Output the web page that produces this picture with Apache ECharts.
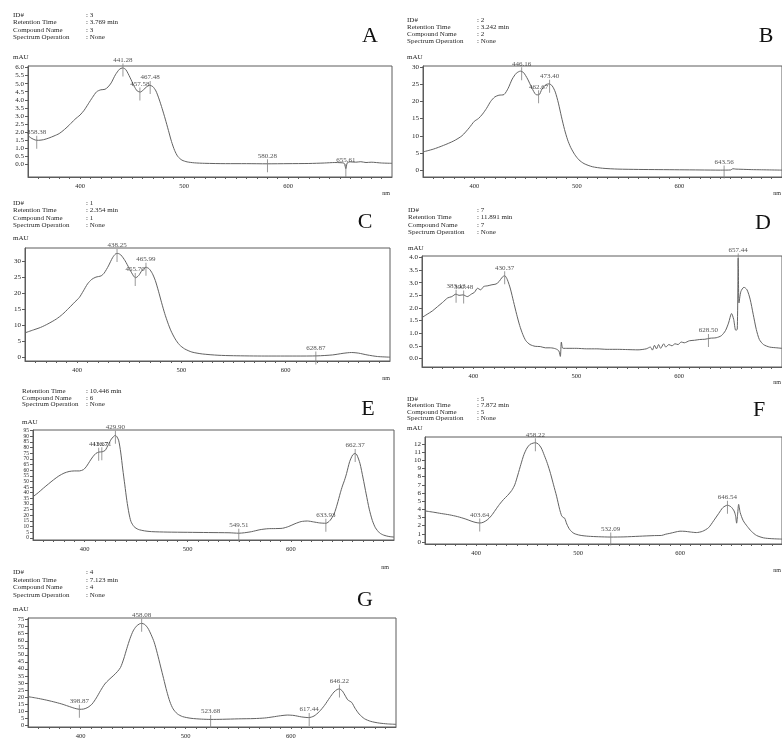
<!DOCTYPE html>
<html>
<head>
<meta charset="utf-8">
<script src="https://cdn.jsdelivr.net/npm/echarts@6/dist/echarts.min.js"></script>
<style>
html,body{margin:0;padding:0;background:#fff}
#chart{width:782px;height:744px}
</style>
</head>
<body>
<div id="chart"></div>
<script>
// ---- Absorption spectra: [wavelength nm, absorbance mAU] ----
const specA = [[350,1.78],[353,1.62],[357,1.50],[360,1.48],[365,1.52],[370,1.62],[375,1.75],[380,1.90],[385,2.15],[390,2.45],[395,2.78],[400,3.05],[404,3.35],[408,3.75],[412,4.15],[416,4.50],[420,4.62],[424,4.65],[427,4.80],[430,5.05],[434,5.55],[438,5.90],[441,5.98],[444,5.88],[448,5.40],[452,4.85],[455,4.55],[458,4.48],[461,4.62],[464,4.80],[467,4.90],[470,4.82],[473,4.55],[476,4.05],[479,3.45],[482,2.80],[485,2.10],[488,1.40],[491,0.85],[494,0.48],[498,0.25],[503,0.14],[510,0.08],[520,0.05],[540,0.03],[560,0.03],[580,0.02],[600,0.03],[620,0.04],[635,0.07],[645,0.10],[650,0.09],[654,0.05],[655.6,-0.28],[657,0.08],[660,0.14],[665,0.12],[670,0.15],[675,0.10],[680,0.12],[690,0.07],[700,0.05]];
const specB = [[350,5.3],[360,6.1],[370,7.2],[380,8.5],[388,10.0],[395,12.3],[400,14.2],[404,15.0],[408,16.3],[412,18.0],[416,20.0],[420,21.3],[424,21.8],[429,22.0],[433,23.8],[437,26.5],[441,28.2],[445,28.8],[448,28.4],[452,26.5],[456,24.0],[460,22.0],[463,21.9],[466,23.6],[470,24.9],[473,25.1],[476,24.5],[479,22.7],[482,19.5],[485,15.5],[488,11.8],[491,8.8],[494,6.6],[498,4.5],[502,3.0],[507,1.9],[515,1.0],[525,0.55],[540,0.3],[560,0.2],[580,0.15],[600,0.1],[620,0.05],[640,0.0],[650,0.05],[652,0.4],[655,0.3],[660,0.25],[670,0.15],[680,0.1],[690,0.05],[700,0.0]];
const specC = [[350,7.5],[358,8.4],[365,9.2],[372,10.3],[380,11.8],[386,13.3],[392,15.2],[398,17.2],[402,18.5],[406,20.6],[410,22.8],[414,24.2],[418,24.9],[423,25.3],[426,26.2],[430,28.4],[434,31.0],[437,32.2],[439,32.3],[442,31.8],[446,30.0],[450,27.6],[454,25.3],[456,24.7],[459,25.4],[462,26.9],[466,28.0],[469,27.5],[472,26.1],[475,23.8],[478,20.5],[481,16.9],[484,13.5],[487,10.6],[490,8.1],[494,5.6],[498,3.8],[503,2.5],[510,1.5],[520,0.9],[535,0.5],[550,0.35],[580,0.25],[610,0.25],[630,0.3],[645,0.6],[655,1.1],[663,1.35],[670,1.15],[678,0.6],[688,0.1],[700,-0.1]];
const specD = [[350,1.62],[355,1.75],[360,1.88],[365,2.05],[370,2.22],[375,2.40],[379,2.45],[383,2.55],[386,2.50],[390,2.52],[394,2.45],[398,2.55],[401,2.62],[404,2.78],[407,2.72],[410,2.85],[414,2.88],[418,2.92],[422,2.95],[425,3.05],[428,3.22],[430.4,3.28],[433,3.12],[436,2.75],[439,2.25],[442,1.75],[445,1.30],[448,0.95],[451,0.70],[455,0.55],[460,0.48],[465,0.47],[470,0.42],[475,0.42],[480,0.38],[483,0.30],[484.5,0.08],[485.5,0.65],[487,0.40],[492,0.40],[500,0.40],[510,0.38],[520,0.38],[530,0.36],[540,0.36],[550,0.35],[560,0.34],[568,0.38],[572,0.45],[574,0.33],[576,0.52],[578,0.38],[580,0.55],[582,0.40],[585,0.58],[587,0.45],[590,0.55],[593,0.50],[596,0.58],[599,0.55],[602,0.65],[605,0.62],[610,0.70],[615,0.72],[620,0.75],[625,0.76],[630,0.80],[636,0.82],[641,0.90],[645,1.10],[648,1.40],[651,1.78],[653,1.55],[655,1.12],[656.5,1.15],[657.44,3.98],[658.2,2.2],[660,2.65],[663,2.82],[666,2.72],[669,2.35],[672,1.75],[675,1.15],[678,0.75],[682,0.55],[688,0.45],[695,0.42],[700,0.40]];
const specE = [[350,36.5],[355,40],[360,44],[365,47.8],[370,51.5],[375,54.8],[380,57.3],[385,58.8],[390,59.3],[395,59.3],[399,60.5],[402,63.5],[405,67.8],[408,71.8],[411,74.8],[414,76.0],[417,76.2],[420,77.5],[423,82.5],[426,87.5],[429.9,90.8],[431,90.0],[433,86.5],[435,76],[437,61],[439,47],[441,33],[443,22],[445,14.5],[448,10],[452,7.6],[458,6.3],[465,5.6],[480,5.2],[500,5.0],[520,4.8],[540,4.6],[549.5,4.2],[555,4.6],[562,5.6],[570,7.3],[578,8.2],[585,8.3],[592,8.6],[598,10.2],[604,12.6],[610,14.5],[616,15.0],[622,14.2],[628,13.3],[634,13.0],[638,15.5],[642,21.5],[645,30],[648,40],[650,46],[652,51],[654,57],[657,67.5],[660,73.5],[662.4,74.8],[664,73.5],[667,66],[670,53],[673,39],[676,25.5],[679,15.5],[682,9],[686,4.5],[690,2.5],[695,1.3],[700,0.8]];
const specF = [[350,3.8],[358,3.65],[366,3.48],[374,3.32],[382,3.1],[390,2.8],[396,2.52],[400,2.38],[403.6,2.32],[407,2.4],[411,2.7],[415,3.2],[419,3.9],[423,4.6],[427,5.2],[431,5.7],[435,6.3],[438,7.0],[441,8.2],[444,9.5],[447,10.7],[450,11.5],[453,11.95],[456,12.1],[458.2,12.15],[461,12.0],[464,11.5],[467,10.6],[470,9.6],[473,8.4],[476,7.0],[479,5.6],[482,4.0],[484,3.2],[485.5,3.0],[487,2.9],[489,2.2],[492,1.5],[496,1.05],[502,0.82],[510,0.7],[520,0.64],[532,0.6],[545,0.62],[560,0.7],[575,0.78],[582,0.8],[586,0.95],[590,1.05],[595,1.2],[600,1.32],[605,1.3],[610,1.22],[616,1.15],[622,1.3],[628,1.75],[633,2.6],[638,3.5],[642,4.2],[646.5,4.5],[650,4.3],[653,3.8],[654.5,3.2],[655.5,2.3],[656.5,3.4],[657.5,4.6],[659,3.6],[662,2.6],[666,1.9],[670,1.3],[675,0.8],[682,0.5],[690,0.4],[700,0.35]];
const specG = [[350,20.2],[358,19.2],[366,18.0],[374,16.6],[382,15.0],[388,13.5],[394,12.0],[399,11.2],[403,11.4],[407,12.6],[411,15.0],[415,19.3],[419,24.5],[423,29.2],[427,32.3],[431,35.0],[435,38.0],[438,41],[441,47],[444,54.5],[447,61.5],[450,67],[453,70.3],[456,72],[458,72.4],[461,71.6],[464,69],[467,64.5],[470,59],[473,51],[476,42],[479,33],[482,24],[485,16.5],[488,11.5],[492,8],[497,6],[505,4.8],[515,4.2],[524,4.0],[535,4.1],[550,4.4],[565,4.6],[575,5.0],[583,5.8],[590,6.6],[597,7.1],[603,6.8],[610,5.8],[617,5.3],[622,6.4],[627,9.5],[632,14],[637,19.5],[641,23.5],[644,25.3],[646.2,25.7],[649,24.2],[652,20.5],[654,18.0],[656,17.0],[658,16.0],[661,12.0],[665,7.8],[670,4.5],[676,2.6],[684,1.4],[692,0.8],[700,0.5]];

// ---- Peak / valley wavelengths picked by the software (nm) ----
const peaksA = [358.38, 441.28, 457.58, 467.48, 580.28, 655.61];
const peaksB = [446.16, 462.67, 473.40, 643.56];
const peaksC = [438.25, 455.70, 465.99, 628.87];
const peaksD = [383.13, 390.48, 430.37, 628.50, 657.44];
const peaksE = [413.67, 416.71, 429.90, 549.51, 633.93, 662.37];
const peaksF = [403.64, 458.22, 532.09, 646.54];
const peaksG = [398.87, 458.08, 523.68, 617.44, 646.22];

// ---- Axis ticks ----
const xLabelTicks = [400, 500, 600];
const xMinorTicks = [360,370,380,390,400,410,420,430,440,450,460,470,480,490,500,510,520,530,540,550,560,570,580,590,600,610,620,630,640,650,660,670,680,690];
const yTicksA = [0,0.5,1,1.5,2,2.5,3,3.5,4,4.5,5,5.5,6];
const yTicksB = [0,5,10,15,20,25,30];
const yTicksC = [0,5,10,15,20,25,30];
const yTicksD = [0,0.5,1,1.5,2,2.5,3,3.5,4];
const yTicksE = [0,5,10,15,20,25,30,35,40,45,50,55,60,65,70,75,80,85,90,95];
const yTicksF = [0,1,2,3,4,5,6,7,8,9,10,11,12];
const yTicksG = [0,5,10,15,20,25,30,35,40,45,50,55,60,65,70,75];

// ---- Header blocks ----
const fieldNames = ['ID#', 'Retention Time', 'Compound Name', 'Spectrum Operation'];
const infoA = [': 3', ': 3.769 min', ': 3', ': None'];
const infoB = [': 2', ': 3.242 min', ': 2', ': None'];
const infoC = [': 1', ': 2.354 min', ': 1', ': None'];
const infoD = [': 7', ': 11.891 min', ': 7', ': None'];
const infoE = [': 6', ': 10.446 min', ': 6', ': None'];
const infoF = [': 5', ': 7.872 min', ': 5', ': None'];
const infoG = [': 4', ': 7.123 min', ': 4', ': None'];

// ---- Panel layout (pixels) ----
const panels = [
  { tag:'A', spec:specA, peaks:peaksA, yt:yTicksA, dec:1, box:[28,66,364,111],  yr:[-0.8,6.1],  info:infoA, hx:13,  hy:[15,22.3,29.7,37], vx:86,  letter:[370,36], unit:[13,57],  nm:[386,193], fs:7 },
  { tag:'B', spec:specB, peaks:peaksB, yt:yTicksB, dec:0, box:[423,66,366,111], yr:[-2,30.3],   info:infoB, hx:407, hy:[20,27,34,41],     vx:477, letter:[766,36], unit:[407,57], nm:[777,193], fs:7 },
  { tag:'C', spec:specC, peaks:peaksC, yt:yTicksC, dec:0, box:[25,248,365,113], yr:[-1.3,34],   info:infoC, hx:13,  hy:[203,210.5,218,225.5], vx:86, letter:[365,222], unit:[13,238], nm:[386,378], fs:7 },
  { tag:'D', spec:specD, peaks:peaksD, yt:yTicksD, dec:1, box:[422,256,361,111],yr:[-0.34,4.06],info:infoD, hx:408, hy:[210,217.5,225,232], vx:477, letter:[763,223], unit:[408,248], nm:[777,382], fs:7 },
  { tag:'E', spec:specE, peaks:peaksE, yt:yTicksE, dec:0, box:[33,430,361,110], yr:[-1.8,95.5], info:infoE, hx:22,  hy:[384,391.5,398,404.5], vx:86, letter:[368,409], unit:[22,422], nm:[385,567], fs:5.4, skipFirst:true },
  { tag:'F', spec:specF, peaks:peaksF, yt:yTicksF, dec:0, box:[425,437,359,107],yr:[-0.25,12.85],info:infoF,hx:407, hy:[399,405.5,412,418.5], vx:477, letter:[759,410], unit:[407,428], nm:[777,570], fs:7 },
  { tag:'G', spec:specG, peaks:peaksG, yt:yTicksG, dec:0, box:[28,618,368,109], yr:[-1.4,76.2], info:infoG, hx:13,  hy:[572,580,587.5,595], vx:86, letter:[365,600], unit:[13,609], nm:[386,747], fs:6.2 }
];

const SERIF = '"Liberation Serif", "DejaVu Serif", serif';
const INK = '#262626';
const AXIS = '#5c5c5c';
const TRACE = '#626262';

// value of a spectrum at a wavelength (for placing the peak ticks on the trace)
function valueAt(spec, x) {
  for (let i = 1; i < spec.length; i++) {
    if (spec[i][0] >= x) {
      const [x0, y0] = spec[i - 1], [x1, y1] = spec[i];
      return y0 + (y1 - y0) * (x - x0) / (x1 - x0);
    }
  }
  return spec[spec.length - 1][1];
}

const grid = [], xAxis = [], yAxis = [], series = [], graphic = [];

panels.forEach((p, i) => {
  grid.push({ left: p.box[0], top: p.box[1], width: p.box[2], height: p.box[3],
              show: true, borderColor: AXIS, borderWidth: 1, backgroundColor: 'transparent' });
  xAxis.push({ gridIndex: i, type: 'value', min: 350, max: 700,
    axisLine: { show: true, onZero: false, lineStyle: { color: AXIS, width: 1 } },
    axisTick: { show: true, customValues: xMinorTicks, length: 2, lineStyle: { color: AXIS } },
    axisLabel: { customValues: xLabelTicks, fontSize: 6.5, fontFamily: SERIF, color: INK, margin: 6 },
    splitLine: { show: false } });
  yAxis.push({ gridIndex: i, type: 'value', min: p.yr[0], max: p.yr[1],
    axisLine: { show: true, onZero: false, lineStyle: { color: AXIS, width: 1 } },
    axisTick: { show: true, customValues: p.yt, length: 3, lineStyle: { color: AXIS } },
    axisLabel: { customValues: p.yt, fontSize: p.fs, fontFamily: SERIF, color: INK, margin: 4,
                 hideOverlap: false, showMinLabel: true, showMaxLabel: true,
                 formatter: v => v.toFixed(p.dec) },
    splitLine: { show: false } });
  series.push({ type: 'line', xAxisIndex: i, yAxisIndex: i, data: p.spec,
    showSymbol: false, smooth: 0.25, clip: true,
    lineStyle: { color: TRACE, width: 1 }, silent: true, animation: false });
  series.push({ type: 'scatter', xAxisIndex: i, yAxisIndex: i,
    data: p.peaks.map(x => [x, valueAt(p.spec, x)]),
    symbol: 'rect', symbolSize: [1, 13], symbolOffset: [0, 2],
    itemStyle: { color: '#808080' },
    label: { show: true, position: 'top', distance: 0, fontSize: 7, fontFamily: SERIF, color: INK,
             formatter: d => d.value[0].toFixed(2) },
    labelLayout: { hideOverlap: false },
    silent: true, animation: false, z: 3 });

  // header block
  fieldNames.forEach((name, k) => {
    if (p.skipFirst && k === 0) return;
    graphic.push({ type: 'text', x: p.hx, y: p.hy[k],
      style: { text: name, font: '7px ' + SERIF, fill: INK, verticalAlign: 'middle' } });
    graphic.push({ type: 'text', x: p.vx, y: p.hy[k],
      style: { text: p.info[k], font: '7px ' + SERIF, fill: INK, verticalAlign: 'middle' } });
  });
  graphic.push({ type: 'text', x: p.letter[0], y: p.letter[1],
    style: { text: p.tag, font: '22px ' + SERIF, fill: '#111', align: 'center', verticalAlign: 'middle' } });
  graphic.push({ type: 'text', x: p.unit[0], y: p.unit[1],
    style: { text: 'mAU', font: '7px ' + SERIF, fill: INK, verticalAlign: 'middle' } });
  graphic.push({ type: 'text', x: p.nm[0], y: p.nm[1],
    style: { text: 'nm', font: '6px ' + SERIF, fill: INK, align: 'center', verticalAlign: 'middle' } });
});

const chart = echarts.init(document.getElementById('chart'), null, { renderer: 'canvas' });
chart.setOption({ backgroundColor: '#ffffff', animation: false, grid, xAxis, yAxis, series, graphic });
</script>
</body>
</html>
